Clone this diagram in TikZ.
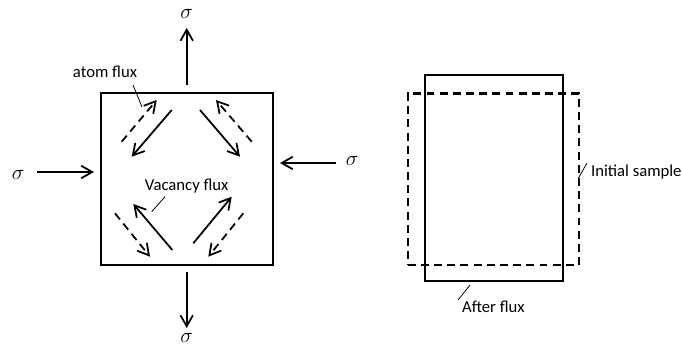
\documentclass[tikz,border=0pt]{standalone}
\usepackage{fontspec}
\setsansfont{Carlito}
\usetikzlibrary{arrows.meta,positioning}

\begin{document}
\begin{tikzpicture}[x=0.02cm,y=-0.02cm,
    load/.style={-{Straight Barb[length=2.2mm,width=2.5mm]}, line width=1pt},
    dflux/.style={load, dash pattern=on 4.5pt off 3pt},
    sample/.style={draw, line width=1.3pt, inner sep=0pt},
    lbl/.style={font=\sffamily\fontsize{9.5}{11}\selectfont, inner sep=1pt},
    sig/.style={font=\fontsize{13}{15}\selectfont, inner sep=0pt},
    leader/.style={line width=0.45pt}
  ]
    \path[use as bounding box] (0,0) rectangle (682,347);

    % stressed sample
    \node[sample, minimum width=3.446cm, minimum height=3.446cm] (sq) at (186.9,178.9) {};

    \node[sig] (sT) at (186.7,14) {$\sigma$};
    \node[sig] (sB) at (186.7,338) {$\sigma$};
    \node[sig] (sL) at (18,175) {$\sigma$};
    \node[sig] (sR) at (352,161) {$\sigma$};

    \coordinate (t0) at (186.7,85);   \coordinate (t1) at (186.7,28);
    \coordinate (b0) at (186.7,272);  \coordinate (b1) at (186.7,328);
    \coordinate (l0) at (37,172);     \coordinate (l1) at (94,172);
    \coordinate (r0) at (336,163);    \coordinate (r1) at (280,163);
    \draw[load] (t0) -- (t1);
    \draw[load] (b0) -- (b1);
    \draw[load] (l0) -- (l1);
    \draw[load] (r0) -- (r1);

    % vacancy flux (solid) and atom flux (dashed)
    \coordinate (v1a) at (171.7,110);  \coordinate (v1b) at (131.7,156.7);
    \coordinate (v2a) at (200,110);    \coordinate (v2b) at (240,156.7);
    \coordinate (v3a) at (172.3,250);  \coordinate (v3b) at (133.3,204);
    \coordinate (v4a) at (193.3,243.3); \coordinate (v4b) at (231.7,196.7);
    \coordinate (a1a) at (121.7,141.7); \coordinate (a1b) at (156.7,100);
    \coordinate (a2a) at (251.7,141.7); \coordinate (a2b) at (216,100);
    \coordinate (a3a) at (115,213.3);   \coordinate (a3b) at (150,256.7);
    \coordinate (a4a) at (243.3,213.3); \coordinate (a4b) at (208.3,256.7);
    \draw[load] (v1a) -- (v1b);
    \draw[load] (v2a) -- (v2b);
    \draw[load] (v3a) -- (v3b);
    \draw[load] (v4a) -- (v4b);
    \draw[dflux] (a1a) -- (a1b);
    \draw[dflux] (a2a) -- (a2b);
    \draw[dflux] (a3a) -- (a3b);
    \draw[dflux] (a4a) -- (a4b);

    \node[lbl] (atom) at (105,72) {atom flux};
    \node[lbl] (vac) at (186.7,186.5) {Vacancy flux};
    \coordinate (pa) at (142,107);
    \coordinate (pv) at (151.7,211.7);
    \draw[leader] (133,85) -- (pa);
    \draw[leader] (165,196.7) -- (pv);

    % sample shape before and after
    \node[sample, minimum width=2.754cm, minimum height=4.12cm] (after) at (493.9,178) {};
    \node[sample, dash pattern=on 4.5pt off 3pt, minimum width=3.426cm, minimum height=3.434cm] (init) at (493.4,179.2) {};

    \node[lbl, anchor=west] (initl) at (589,172) {Initial sample};
    \node[lbl, anchor=west] (afterl) at (460,307) {After flux};
    \coordinate (pi) at (578.5,178);
    \coordinate (pf) at (470,285);
    \draw[leader] (587,163) -- (pi);
    \draw[leader] (458,300) -- (pf);
  \end{tikzpicture}
\end{document}
